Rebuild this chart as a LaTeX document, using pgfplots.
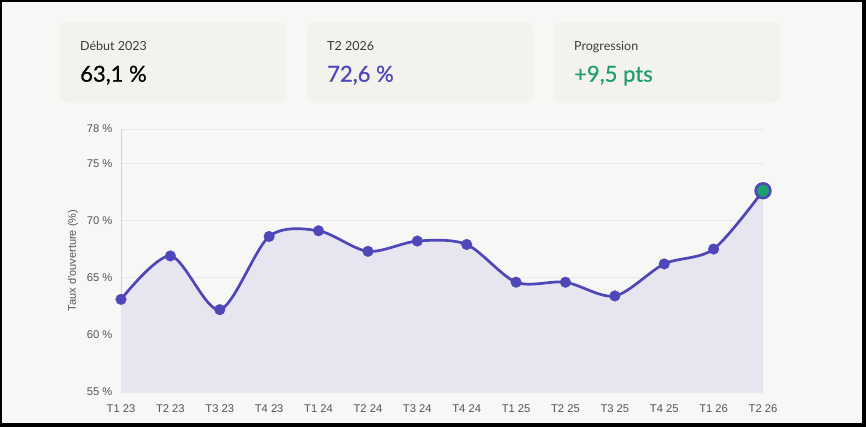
\documentclass[border=0pt]{standalone}
\usepackage{pgfplots}
\pgfplotsset{compat=1.18}
\usepackage{fontspec}
\setmainfont{Liberation Sans}
\newfontfamily\cardfont{Lato}
\newfontfamily\valuefont[FakeBold=0.6]{Lato}
\definecolor{bg}{HTML}{F7F7F5}
\definecolor{card}{HTML}{F3F2EC}
\definecolor{lineC}{HTML}{4F46B8}
\definecolor{areafill}{HTML}{E7E6F0}
\definecolor{gridC}{HTML}{E8E7F0}
\definecolor{ticktext}{HTML}{555555}
\definecolor{greenC}{HTML}{1E9E6E}
\definecolor{labeltext}{HTML}{3A3A3A}
\definecolor{xaxisC}{HTML}{C9C7DA}
\definecolor{yaxisC}{HTML}{D2D2DA}
\begin{document}
\begin{tikzpicture}[x=1pt,y=1pt]
\useasboundingbox (0,0) rectangle (866,427);
\fill[bg] (0,0) rectangle (866,427);
\foreach \x in {60,307,554} {\fill[card, rounded corners=8pt] (\x,324) rectangle (\x+226,405);}
\node[anchor=base west, inner sep=0pt, font=\cardfont\fontsize{12.5}{15}\selectfont, text=labeltext] at (80,376) {Début 2023};
\node[anchor=base west, inner sep=0pt, font=\cardfont\fontsize{12.5}{15}\selectfont, text=labeltext] at (327,376) {T2 2026};
\node[anchor=base west, inner sep=0pt, font=\cardfont\fontsize{12.5}{15}\selectfont, text=labeltext] at (574,376) {Progression};
\node[anchor=base west, inner sep=0pt, font=\valuefont\fontsize{22}{26}\selectfont, text=black] at (80,345.3) {63,1 \%};
\node[anchor=base west, inner sep=0pt, font=\valuefont\fontsize{22}{26}\selectfont, text=lineC] at (327,345.3) {72,6 \%};
\node[anchor=base west, inner sep=0pt, font=\valuefont\fontsize{22}{26}\selectfont, text=greenC] at (574,345.3) {+9,5 pts};
\begin{axis}[at={(121pt,35pt)}, anchor=south west, scale only axis,
  width=642pt, height=263pt,
  xmin=0, xmax=13, ymin=55, ymax=78,
  xtick={0,...,13},
  xticklabels={T1 23,T2 23,T3 23,T4 23,T1 24,T2 24,T3 24,T4 24,T1 25,T2 25,T3 25,T4 25,T1 26,T2 26},
  ytick={55,60,65,70,75,78},
  yticklabels={55 \%,60 \%,65 \%,70 \%,75 \%,78 \%},
  axis x line*=bottom, axis y line*=left,
  x axis line style={draw=xaxisC, line width=1pt},
  y axis line style={draw=yaxisC, line width=1pt},
  ymajorgrids, major grid style={draw=gridC, line width=0.8pt},
  major tick length=0pt,
  tick label style={font=\fontsize{11.2}{13}\selectfont, text=ticktext},
  xticklabel style={yshift=-9pt},
  yticklabel style={xshift=-5pt},
  ylabel={Taux d'ouverture (\%)},
  ylabel style={font=\fontsize{11}{13}\selectfont, text=ticktext, yshift=2pt},
  clip=false,
]
\addplot[draw=none, fill=areafill, smooth, tension=0.5] coordinates {
(0,63.1)(1,66.9)(2,62.2)(3,68.6)(4,69.1)(5,67.3)(6,68.2)(7,67.9)(8,64.6)(9,64.6)(10,63.4)(11,66.2)(12,67.5)(13,72.6)} \closedcycle;
\addplot[draw=lineC, line width=2.7pt, smooth, tension=0.5, no marks] coordinates {
(0,63.1)(1,66.9)(2,62.2)(3,68.6)(4,69.1)(5,67.3)(6,68.2)(7,67.9)(8,64.6)(9,64.6)(10,63.4)(11,66.2)(12,67.5)(13,72.6)};
\addplot[color=lineC, only marks, mark=*, mark size=5.4pt, mark options={fill=lineC, draw=lineC, line width=0.2pt}] coordinates {
(0,63.1)(1,66.9)(2,62.2)(3,68.6)(4,69.1)(5,67.3)(6,68.2)(7,67.9)(8,64.6)(9,64.6)(10,63.4)(11,66.2)(12,67.5)};
\addplot[color=lineC, only marks, mark=*, mark size=7.4pt, mark options={fill=greenC, draw=lineC, line width=2.5pt}] coordinates {(13,72.6)};
\end{axis}
\draw[black, line width=2pt] (1,1) rectangle (865,426);
\fill[black] (862,0) rectangle (866,427);
\fill[black] (0,0) rectangle (866,4);
\end{tikzpicture}
\end{document}
